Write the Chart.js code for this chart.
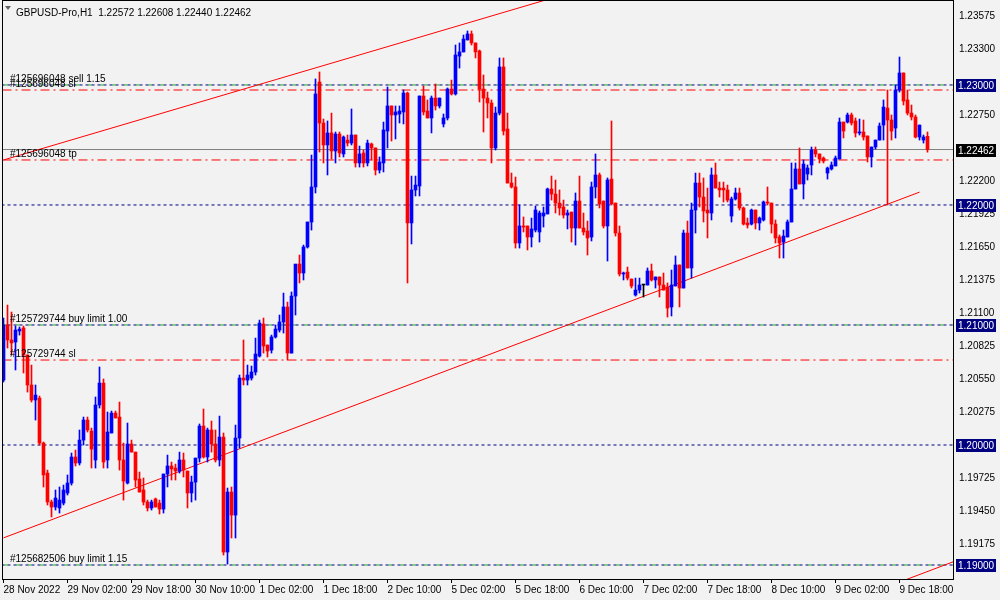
<!DOCTYPE html>
<html lang="en">
<head>
<meta charset="UTF-8">
<title>GBPUSD-Pro,H1</title>
<script src="https://cdn.jsdelivr.net/npm/chart.js"></script>
<style>
  html, body { margin: 0; padding: 0; background: #f2f2f2; }
  .wrap { width: 1000px; height: 600px; }
</style>
</head>
<body>
<div class="wrap"><canvas id="chart" width="1000" height="600"></canvas></div>
<script>
// --- data (one entry per hourly bar) ---
const header = 'GBPUSD-Pro,H1  1.22572 1.22608 1.22440 1.22462';
const timeLabels = ['28 Nov 2022', '29 Nov 02:00', '29 Nov 18:00', '30 Nov 10:00', '1 Dec 02:00', '1 Dec 18:00',
  '2 Dec 10:00', '5 Dec 02:00', '5 Dec 18:00', '6 Dec 10:00', '7 Dec 02:00', '7 Dec 18:00', '8 Dec 10:00',
  '9 Dec 02:00', '9 Dec 18:00'];
const labelStep = 16; // bars between time labels

const opens = [
  1.20541,1.21000,1.20875,1.20858,1.20950,1.20975,1.20750,1.20500,1.20375,1.20391,
  1.20016,1.19766,1.19525,1.19483,1.19475,1.19516,1.19600,1.19683,1.19900,1.19850,
  1.20041,1.20208,1.20116,1.19875,1.20333,1.20516,1.19875,1.20100,1.20266,1.20233,
  1.19875,1.19683,1.20008,1.19941,1.19716,1.19625,1.19525,1.19475,1.19550,1.19516,
  1.19466,1.19758,1.19825,1.19808,1.19783,1.19875,1.19783,1.19600,1.19691,1.19891,
  1.20158,1.19900,1.20125,1.20008,1.19875,1.20066,1.19108,1.19608,1.19416,1.20058,
  1.20558,1.20541,1.20558,1.20608,1.20741,1.21008,1.20833,1.20791,1.20900,1.20958,
  1.21025,1.21150,1.20766,1.21241,1.21508,1.21433,1.21650,1.21858,1.22150,1.23025,
  1.22683,1.22500,1.22600,1.22450,1.22591,1.22425,1.22541,1.22516,1.22583,1.22350,
  1.22433,1.22350,1.22508,1.22475,1.22291,1.22350,1.22616,1.22825,1.22750,1.22758,
  1.22775,1.22933,1.21850,1.22125,1.22158,1.22908,1.22783,1.22725,1.22891,1.22825,
  1.22675,1.22725,1.22966,1.22925,1.23241,1.23275,1.23375,1.23425,1.23350,1.23283,
  1.22966,1.22891,1.22850,1.22475,1.22766,1.23150,1.22633,1.22183,1.22150,1.21683,
  1.21825,1.21825,1.21733,1.21791,1.21775,1.21908,1.21925,1.22133,1.22091,1.22016,
  1.21983,1.21916,1.21941,1.21808,1.22033,1.21808,1.21783,1.21733,1.22150,1.22250,
  1.22033,1.21825,1.22216,1.22016,1.21766,1.21425,1.21441,1.21383,1.21250,1.21291,
  1.21333,1.21333,1.21450,1.21375,1.21400,1.21333,1.21316,1.21150,1.21325,1.21500,
  1.21308,1.21766,1.21475,1.21958,1.22183,1.22066,1.21958,1.21933,1.22250,1.22141,
  1.22141,1.22125,1.21908,1.22050,1.22100,1.21975,1.21850,1.21841,1.21958,1.21850,
  1.21875,1.22025,1.22016,1.21841,1.21733,1.21691,1.21733,1.21858,1.22133,1.22300,
  1.22175,1.22258,1.22333,1.22458,1.22425,1.22391,1.22266,1.22300,1.22325,1.22383,
  1.22691,1.22691,1.22750,1.22700,1.22600,1.22608,1.22575,1.22400,1.22483,1.22541,
  1.22666,1.22808,1.22708,1.22641,1.22958,1.23100,1.22875,1.22766,1.22733,1.22566,
  1.22541,1.22572
];
const highs = [
  1.21058,1.21166,1.21108,1.20991,1.20983,1.20991,1.20750,1.20666,1.20500,1.20408,
  1.20025,1.19791,1.19541,1.19625,1.19650,1.19666,1.19750,1.19933,1.19958,1.20125,
  1.20233,1.20233,1.20141,1.20400,1.20650,1.20550,1.20275,1.20283,1.20283,1.20358,
  1.20016,1.20183,1.20041,1.19941,1.19775,1.19725,1.19541,1.19541,1.19558,1.19541,
  1.19758,1.19916,1.19858,1.19841,1.19941,1.19933,1.19783,1.19741,1.19891,1.20175,
  1.20300,1.20141,1.20200,1.20125,1.20241,1.20100,1.19641,1.19650,1.20166,1.20583,
  1.20875,1.20666,1.20658,1.20891,1.21041,1.21058,1.20833,1.20916,1.21000,1.21083,
  1.21266,1.21191,1.21275,1.21500,1.21583,1.21666,1.21858,1.22416,1.23050,1.23108,
  1.22716,1.22700,1.22766,1.22608,1.22608,1.22575,1.22583,1.22800,1.22583,1.22491,
  1.22458,1.22541,1.22516,1.22475,1.22400,1.22691,1.22983,1.22825,1.22825,1.22825,
  1.22958,1.22941,1.22241,1.22241,1.22908,1.22991,1.22875,1.22908,1.23008,1.22891,
  1.22758,1.22975,1.23041,1.23333,1.23350,1.23416,1.23450,1.23450,1.23350,1.23291,
  1.23083,1.22941,1.22875,1.22816,1.23225,1.23225,1.22766,1.22266,1.22233,1.22000,
  1.21900,1.21825,1.21891,1.21991,1.21950,1.21983,1.22141,1.22241,1.22208,1.22125,
  1.22041,1.21958,1.21941,1.22100,1.22241,1.21933,1.21866,1.22191,1.22425,1.22266,
  1.22033,1.22225,1.22700,1.22016,1.21825,1.21441,1.21483,1.21383,1.21391,1.21391,
  1.21333,1.21475,1.21508,1.21400,1.21400,1.21433,1.21350,1.21458,1.21575,1.21500,
  1.21791,1.21866,1.22016,1.22266,1.22266,1.22225,1.22141,1.22308,1.22350,1.22191,
  1.22191,1.22166,1.22066,1.22141,1.22141,1.21983,1.21891,1.21966,1.21958,1.21900,
  1.22033,1.22150,1.22016,1.21875,1.21750,1.21791,1.21875,1.22350,1.22350,1.22475,
  1.22375,1.22333,1.22483,1.22483,1.22425,1.22400,1.22316,1.22358,1.22408,1.22725,
  1.22691,1.22766,1.22766,1.22725,1.22716,1.22708,1.22575,1.22483,1.22541,1.22683,
  1.22875,1.22958,1.22750,1.23000,1.23233,1.23100,1.22958,1.22833,1.22750,1.22666,
  1.22583,1.22608
];
const lows = [
  1.20525,1.20808,1.20750,1.20625,1.20916,1.20600,1.20441,1.20358,1.20208,1.20000,
  1.19650,1.19500,1.19400,1.19458,1.19433,1.19500,1.19583,1.19666,1.19825,1.19833,
  1.20000,1.20108,1.19808,1.19808,1.20308,1.19808,1.19808,1.20100,1.20225,1.19791,
  1.19541,1.19675,1.19941,1.19650,1.19608,1.19500,1.19450,1.19458,1.19483,1.19425,
  1.19433,1.19650,1.19708,1.19708,1.19766,1.19733,1.19475,1.19525,1.19541,1.19858,
  1.19891,1.19858,1.19941,1.19858,1.19825,1.19083,1.19008,1.19225,1.19225,1.19975,
  1.20500,1.20500,1.20541,1.20583,1.20733,1.20766,1.20733,1.20766,1.20891,1.20941,
  1.20933,1.20708,1.20766,1.21083,1.21350,1.21375,1.21641,1.21791,1.22100,1.22441,
  1.22350,1.22250,1.22383,1.22350,1.22400,1.22400,1.22491,1.22500,1.22316,1.22316,
  1.22316,1.22325,1.22375,1.22250,1.22266,1.22275,1.22475,1.22533,1.22550,1.22683,
  1.22675,1.21350,1.21675,1.22075,1.22075,1.22750,1.22725,1.22600,1.22791,1.22808,
  1.22650,1.22708,1.22916,1.22916,1.23141,1.23275,1.23375,1.23333,1.23225,1.22858,
  1.22608,1.22725,1.22350,1.22458,1.22750,1.22583,1.22183,1.22141,1.21641,1.21641,
  1.21775,1.21625,1.21650,1.21775,1.21691,1.21816,1.21925,1.22041,1.21933,1.21916,
  1.21891,1.21800,1.21691,1.21666,1.21808,1.21750,1.21583,1.21700,1.22058,1.21975,
  1.21808,1.21533,1.22000,1.21741,1.21408,1.21375,1.21375,1.21308,1.21241,1.21266,
  1.21233,1.21333,1.21366,1.21308,1.21233,1.21291,1.21066,1.21075,1.21325,1.21150,
  1.21308,1.21475,1.21391,1.21766,1.21983,1.21858,1.21725,1.21875,1.22141,1.22066,
  1.22025,1.22025,1.21858,1.22041,1.21958,1.21833,1.21808,1.21833,1.21800,1.21791,
  1.21866,1.22000,1.21766,1.21683,1.21558,1.21558,1.21733,1.21858,1.22133,1.22175,
  1.22050,1.22208,1.22250,1.22400,1.22350,1.22350,1.22216,1.22291,1.22325,1.22383,
  1.22558,1.22683,1.22666,1.22566,1.22583,1.22541,1.22358,1.22316,1.22466,1.22541,
  1.22541,1.22000,1.22541,1.22558,1.22941,1.22833,1.22750,1.22708,1.22558,1.22541,
  1.22516,1.22440
];
const closes = [
  1.21000,1.20875,1.20850,1.20958,1.20966,1.20750,1.20500,1.20375,1.20416,1.20016,
  1.19750,1.19525,1.19483,1.19558,1.19541,1.19625,1.19683,1.19900,1.19850,1.20041,
  1.20208,1.20125,1.19966,1.20333,1.20516,1.19858,1.20108,1.20266,1.20225,1.19875,
  1.19700,1.20008,1.19941,1.19708,1.19608,1.19525,1.19475,1.19525,1.19483,1.19466,
  1.19758,1.19825,1.19800,1.19783,1.19875,1.19791,1.19600,1.19691,1.19891,1.20158,
  1.19900,1.20125,1.20008,1.19875,1.20066,1.19108,1.19608,1.19416,1.20058,1.20558,
  1.20541,1.20583,1.20608,1.20758,1.21016,1.20825,1.20783,1.20900,1.20966,1.21025,
  1.21150,1.20766,1.21241,1.21508,1.21433,1.21650,1.21858,1.22150,1.22925,1.22683,
  1.22500,1.22600,1.22450,1.22591,1.22433,1.22566,1.22516,1.22583,1.22350,1.22425,
  1.22350,1.22516,1.22475,1.22291,1.22358,1.22625,1.22825,1.22750,1.22775,1.22783,
  1.22933,1.21850,1.22125,1.22166,1.22908,1.22775,1.22725,1.22891,1.22825,1.22891,
  1.22725,1.22966,1.22925,1.23250,1.23275,1.23383,1.23425,1.23350,1.23275,1.22966,
  1.22891,1.22850,1.22475,1.22766,1.23150,1.22616,1.22183,1.22150,1.21683,1.21825,
  1.21816,1.21733,1.21800,1.21958,1.21933,1.21933,1.22133,1.22091,1.22016,1.21975,
  1.21916,1.21933,1.21808,1.22033,1.21808,1.21775,1.21725,1.22150,1.22250,1.22008,
  1.21825,1.22208,1.22008,1.21766,1.21425,1.21433,1.21391,1.21325,1.21291,1.21333,
  1.21333,1.21450,1.21375,1.21400,1.21333,1.21291,1.21141,1.21333,1.21500,1.21308,
  1.21766,1.21475,1.21958,1.22183,1.22066,1.21950,1.21933,1.22250,1.22141,1.22125,
  1.22125,1.22041,1.22050,1.22100,1.21975,1.21841,1.21833,1.21958,1.21850,1.21891,
  1.22025,1.22016,1.21841,1.21725,1.21683,1.21741,1.21858,1.22133,1.22300,1.22175,
  1.22341,1.22308,1.22458,1.22425,1.22383,1.22366,1.22308,1.22333,1.22391,1.22691,
  1.22616,1.22750,1.22683,1.22600,1.22608,1.22566,1.22400,1.22483,1.22541,1.22658,
  1.22816,1.22708,1.22616,1.22958,1.23100,1.22866,1.22766,1.22733,1.22566,1.22666,
  1.22566,1.22462
];

// price axis ticks (the ones hidden behind level boxes are left out)
const priceTicks = [1.23575, 1.23300, 1.22750, 1.22200, 1.21925, 1.21650, 1.21375, 1.21100,
  1.20825, 1.20550, 1.20275, 1.19725, 1.19450, 1.19175];

// horizontal levels
const hLevels = [1.23000, 1.22000, 1.21000, 1.20000, 1.19000];
const orderLevels = [1.23000, 1.21000, 1.19000];
const orderTexts = ['#125696048 sell 1.15', '#125729744 buy limit 1.00', '#125682506 buy limit 1.15'];
const stopLevels = [1.22958, 1.22375, 1.20708];
const stopTexts = ['#125696048 sl', '#125696048 tp', '#125729744 sl'];
const lastPrice = 1.22462;

// trend lines: [bar index, price] end points
const trendUpper = [[0, 1.22375], [140, 1.23752]];
const trendLower = [[0, 1.19226], [229, 1.22107]];
const trendBottom = [[220, 1.18807], [238, 1.19034]];

const FONT = 'Liberation Sans';
const BULL = '#0000ff', BEAR = '#ff0000';

const idx = opens.map((_, i) => i);
const barColors = idx.map(i => closes[i] > opens[i] ? BULL : (closes[i] < opens[i] ? BEAR : '#000000'));

function flatLine(price) {
  return [{x: -5, y: price}, {x: 245, y: price}];
}
function lineSet(points, color, dash, order, dashOffset) {
  return {
    type: 'line',
    data: points,
    borderColor: color,
    borderWidth: 1,
    borderDash: dash || [],
    borderDashOffset: dashOffset || 0,
    pointRadius: 0,
    tension: 0,
    clip: 0,
    order: order
  };
}

const datasets = [
  {
    type: 'bar',
    data: idx.map(i => ({x: i, y: [opens[i], closes[i]]})),
    backgroundColor: barColors,
    barThickness: 3,
    minBarLength: 1,
    grouped: false,
    order: 0
  },
  {
    type: 'bar',
    data: idx.map(i => ({x: i, y: [lows[i], highs[i]]})),
    backgroundColor: barColors,
    barThickness: 1,
    grouped: false,
    order: 1
  },
  lineSet(trendUpper.map(p => ({x: p[0], y: p[1]})), '#ff0000', null, 2),
  lineSet(trendLower.map(p => ({x: p[0], y: p[1]})), '#ff0000', null, 2),
  lineSet(trendBottom.map(p => ({x: p[0], y: p[1]})), '#ff0000', null, 2),
  lineSet(flatLine(lastPrice), '#808080', null, 3)
];
hLevels.forEach(v => datasets.push(lineSet(flatLine(v), '#000080', [3, 3], 4)));
stopLevels.forEach(v => datasets.push(lineSet(flatLine(v), '#ff0000', [9, 4, 2, 4], 4)));
orderLevels.forEach(v => datasets.push(lineSet(flatLine(v), '#00c000', [3, 9], 5, 3)));

// background, frame, header, level captions and price boxes
const mtOverlay = {
  id: 'mtOverlay',
  beforeDraw(chart) {
    const ctx = chart.ctx;
    ctx.save();
    ctx.fillStyle = '#f2f2f2';
    ctx.fillRect(0, 0, chart.width, chart.height);
    ctx.restore();
  },
  afterDraw(chart) {
    const {ctx, chartArea: a} = chart;
    const y = chart.scales.y;
    ctx.save();
    // frame
    ctx.strokeStyle = '#000000';
    ctx.lineWidth = 1;
    ctx.strokeRect(a.left + 0.5, a.top + 0.5, a.right - a.left - 1, a.bottom - a.top - 1);

    ctx.font = '10px "' + FONT + '"';
    ctx.textBaseline = 'alphabetic';
    // header
    ctx.fillStyle = '#606060';
    ctx.beginPath();
    ctx.moveTo(a.left + 3, a.top + 6);
    ctx.lineTo(a.left + 9, a.top + 6);
    ctx.lineTo(a.left + 6, a.top + 10);
    ctx.closePath();
    ctx.fill();
    ctx.fillStyle = '#000000';
    ctx.fillText(header, a.left + 14, a.top + 16);

    // order / stop captions
    orderLevels.forEach((v, k) => ctx.fillText(orderTexts[k], a.left + 8, y.getPixelForValue(v) - 3));
    stopLevels.forEach((v, k) => ctx.fillText(stopTexts[k], a.left + 8, y.getPixelForValue(v) - 3));

    // price boxes on the axis
    ctx.textBaseline = 'middle';
    const box = (v, bg) => {
      const py = Math.round(y.getPixelForValue(v));
      ctx.fillStyle = bg;
      ctx.fillRect(a.right + 2, py - 6, 40, 13);
      ctx.fillStyle = '#ffffff';
      ctx.fillText(v.toFixed(5), a.right + 4, py + 1);
    };
    hLevels.forEach(v => box(v, '#000080'));
    box(lastPrice, '#000000');
    ctx.restore();
  }
};

const ctx = document.getElementById('chart').getContext('2d');
const chart = new Chart(ctx, {
  type: 'bar',
  data: {datasets: datasets},
  options: {
    responsive: false,
    animation: false,
    devicePixelRatio: 1,
    events: [],
    layout: {padding: {left: 2, top: 0, right: 0, bottom: 0}},
    plugins: {legend: {display: false}, tooltip: {enabled: false}},
    scales: {
      x: {
        type: 'linear',
        min: -0.375,
        max: 237.625,
        offset: false,
        grid: {display: true, drawOnChartArea: false, drawTicks: true, tickLength: 3, color: '#000000', offset: false},
        border: {display: false},
        afterBuildTicks: s => { s.ticks = timeLabels.map((_, k) => ({value: k * labelStep})); },
        afterFit: s => { s.height = 20; s.paddingLeft = 0; s.paddingRight = 0; },
        ticks: {
          autoSkip: false,
          maxRotation: 0,
          minRotation: 0,
          align: 'start',
          padding: 1,
          color: '#000000',
          font: {family: FONT, size: 10},
          callback: (v, i) => timeLabels[i]
        }
      },
      y: {
        type: 'linear',
        position: 'right',
        min: 1.18875,
        max: 1.23708,
        beginAtZero: false,
        grid: {display: false, drawTicks: false},
        border: {display: false},
        afterBuildTicks: s => { s.ticks = priceTicks.map(v => ({value: v})); },
        afterFit: s => { s.width = 46; s.paddingTop = 0; s.paddingBottom = 0; },
        ticks: {
          padding: 5,
          color: '#000000',
          font: {family: FONT, size: 10},
          callback: v => v.toFixed(5)
        }
      }
    }
  },
  plugins: [mtOverlay]
});
</script>
</body>
</html>
